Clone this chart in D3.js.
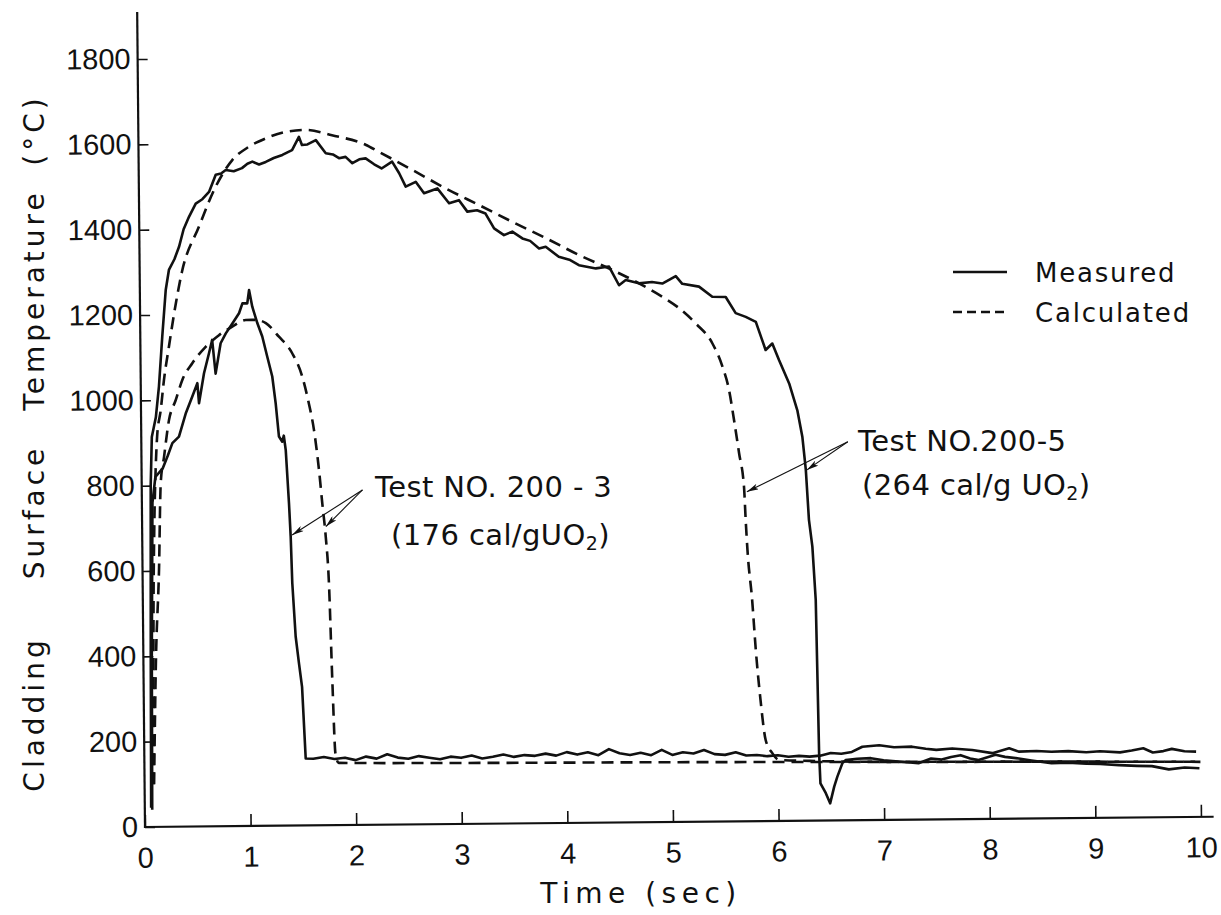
<!DOCTYPE html>
<html>
<head>
<meta charset="utf-8">
<script src="https://cdnjs.cloudflare.com/ajax/libs/d3/7.8.5/d3.min.js"></script>
<style>
  body { margin: 0; background: #fff; }
  text { font-family: "DejaVu Sans", sans-serif; fill: #111; }
</style>
</head>
<body>
<div id="chart"></div>
<script>
// values (time in sec, temperature in deg C)
var xTicks = [0, 1, 2, 3, 4, 5, 6, 7, 8, 9, 10];
var yTicks = [0, 200, 400, 600, 800, 1000, 1200, 1400, 1600, 1800];

// Test NO. 200-5, measured
var measured5 = [
  [0.06, 45], [0.07, 400], [0.085, 800], [0.10, 914], [0.14, 960], [0.172, 1032], [0.208, 1149],
  [0.245, 1258], [0.277, 1305], [0.33, 1330], [0.375, 1359], [0.42, 1400], [0.472, 1429],
  [0.537, 1460], [0.60, 1470], [0.664, 1487], [0.729, 1527], [0.78, 1530], [0.824, 1538],
  [0.90, 1535], [0.978, 1542], [1.03, 1552], [1.077, 1557], [1.14, 1550], [1.204, 1556],
  [1.28, 1565], [1.362, 1572], [1.41, 1578], [1.454, 1583], [1.52, 1614], [1.548, 1595],
  [1.60, 1596], [1.68, 1606], [1.773, 1575], [1.84, 1572], [1.898, 1563], [1.96, 1566],
  [2.024, 1551], [2.09, 1560], [2.15, 1562], [2.23, 1548], [2.30, 1538], [2.40, 1554],
  [2.465, 1527], [2.527, 1495], [2.622, 1506], [2.70, 1479], [2.826, 1490], [2.936, 1455],
  [3.03, 1462], [3.108, 1435], [3.20, 1438], [3.28, 1430], [3.36, 1395], [3.453, 1379],
  [3.532, 1387], [3.627, 1371], [3.70, 1365], [3.784, 1347], [3.847, 1351], [3.97, 1327],
  [4.07, 1320], [4.16, 1307], [4.32, 1299], [4.445, 1303], [4.538, 1259], [4.602, 1271],
  [4.727, 1263], [4.85, 1266], [4.948, 1262], [5.076, 1279], [5.137, 1261], [5.295, 1254],
  [5.42, 1230], [5.547, 1229], [5.64, 1191], [5.735, 1182], [5.83, 1170], [5.92, 1104],
  [5.984, 1119], [6.046, 1080], [6.14, 1025], [6.215, 962], [6.26, 900], [6.29, 822],
  [6.315, 705], [6.345, 642], [6.372, 517], [6.38, 360], [6.39, 158], [6.40, 87],
  [6.45, 64], [6.49, 40], [6.53, 79], [6.56, 102], [6.61, 134], [6.64, 141], [6.75, 144],
  [6.88, 145], [7.0, 140], [7.17, 136], [7.33, 132], [7.45, 143], [7.55, 140], [7.64, 146],
  [7.73, 150], [7.82, 142], [7.90, 138], [8.06, 150], [8.15, 145], [8.28, 141], [8.4, 136],
  [8.59, 129], [8.75, 130], [8.92, 127], [9.05, 126], [9.23, 123], [9.4, 121], [9.54, 120],
  [9.70, 112], [9.85, 116], [9.99, 114]
];

// Test NO. 200-5, calculated
var calculated5 = [
  [0.085, 100], [0.10, 500], [0.115, 700], [0.133, 836], [0.15, 914], [0.187, 977],
  [0.22, 1047], [0.27, 1125], [0.34, 1227], [0.40, 1300], [0.566, 1406], [0.727, 1499],
  [0.887, 1561], [1.046, 1592], [1.205, 1611], [1.396, 1626], [1.585, 1630], [1.833, 1617],
  [2.15, 1594], [2.277, 1577], [2.59, 1534], [2.905, 1490], [3.22, 1450], [3.533, 1410],
  [3.85, 1371], [4.16, 1331], [4.475, 1295], [4.727, 1263], [4.947, 1231], [5.104, 1204],
  [5.26, 1168], [5.416, 1121], [5.51, 1066], [5.57, 1011], [5.615, 940], [5.66, 862],
  [5.703, 784], [5.716, 706], [5.73, 636], [5.77, 518], [5.80, 401], [5.84, 284],
  [5.885, 190], [5.947, 159], [6.01, 143], [6.3, 140], [7.0, 136], [8.5, 133], [10.0, 129]
];

// Test NO. 200-3, measured
var measured3 = [
  [0.07, 40], [0.08, 400], [0.10, 760], [0.13, 820], [0.20, 840], [0.25, 870], [0.294, 899],
  [0.357, 914], [0.423, 968], [0.487, 1008], [0.536, 1039], [0.55, 992], [0.60, 1062],
  [0.649, 1109], [0.68, 1140], [0.71, 1061], [0.76, 1132], [0.81, 1155], [0.873, 1178],
  [0.937, 1202], [0.97, 1225], [1.016, 1225], [1.034, 1256], [1.063, 1217], [1.11, 1178],
  [1.155, 1147], [1.20, 1100], [1.246, 1053], [1.276, 990], [1.304, 912], [1.335, 900],
  [1.35, 914], [1.367, 880], [1.393, 755], [1.406, 677], [1.417, 568], [1.444, 443],
  [1.473, 380], [1.50, 325], [1.528, 157], [1.6, 156], [1.7, 160], [1.8, 155], [1.9, 158],
  [2.0, 152], [2.1, 160], [2.2, 155], [2.3, 165], [2.4, 157], [2.5, 154], [2.6, 160],
  [2.7, 156], [2.8, 152], [2.9, 158], [3.0, 155], [3.1, 160], [3.2, 153], [3.3, 157],
  [3.4, 162], [3.5, 156], [3.6, 160], [3.7, 158], [3.8, 163], [3.9, 158], [4.0, 166],
  [4.1, 160], [4.2, 165], [4.3, 158], [4.4, 172], [4.5, 162], [4.6, 158], [4.7, 163],
  [4.8, 157], [4.9, 169], [5.0, 157], [5.1, 163], [5.2, 160], [5.3, 168], [5.4, 158],
  [5.5, 156], [5.6, 162], [5.7, 154], [5.8, 155], [5.9, 152], [6.0, 154], [6.1, 150],
  [6.2, 152], [6.3, 150], [6.4, 152], [6.5, 158], [6.6, 156], [6.7, 160], [6.8, 172],
  [6.96, 175], [7.1, 170], [7.27, 171], [7.4, 166], [7.5, 163], [7.65, 166], [7.84, 162],
  [8.03, 154], [8.19, 165], [8.28, 157], [8.45, 158], [8.59, 156], [8.75, 157], [8.92, 154],
  [9.05, 156], [9.24, 153], [9.35, 157], [9.46, 162], [9.55, 152], [9.65, 155], [9.73, 160],
  [9.85, 154], [9.96, 153]
];

// Test NO. 200-3, calculated
var calculated3 = [
  [0.09, 100], [0.12, 400], [0.156, 602], [0.18, 805], [0.214, 867], [0.264, 953],
  [0.33, 1000], [0.394, 1047], [0.49, 1086], [0.618, 1124], [0.745, 1151], [0.872, 1171],
  [1.0, 1186], [1.095, 1186], [1.19, 1178], [1.313, 1146], [1.437, 1107], [1.53, 1052],
  [1.59, 989], [1.636, 927], [1.68, 833], [1.708, 755], [1.738, 676], [1.764, 567],
  [1.787, 340], [1.81, 168], [1.84, 146], [3.0, 143], [5.0, 140], [7.0, 136], [8.5, 133],
  [10.0, 129]
];

// annotation arrows: [from, to] in data units
var arrows3 = [[[2.09, 785], [1.42, 681]], [[2.09, 785], [1.74, 700]]];
var arrows5 = [[[6.69, 887], [5.73, 772]], [[6.69, 887], [6.30, 822]]];

var legendNames = ["Measured", "Calculated"];

var width = 1221, height = 915;
var svg = d3.select("#chart").append("svg")
  .attr("width", width).attr("height", height);

svg.append("defs").append("marker")
  .attr("id", "arrowhead")
  .attr("viewBox", "0 0 12 6").attr("refX", 12).attr("refY", 3)
  .attr("markerWidth", 12).attr("markerHeight", 6)
  .attr("markerUnits", "userSpaceOnUse").attr("orient", "auto")
  .append("path").attr("d", "M0,0 L12,3 L0,6 L3,3 Z").attr("fill", "#111");

var xScale = d3.scaleLinear().domain([0, 10]).range([145, 1201]);
var yScale = d3.scaleLinear().domain([0, 1800]).range([827, 59]);

// the scan is slightly rotated
var plot = svg.append("g").attr("transform", "rotate(-0.55,145,827)");

// axis lines
plot.append("line")
  .attr("x1", xScale(0)).attr("x2", xScale(0))
  .attr("y1", yScale(0) + 1).attr("y2", yScale(1910))
  .attr("stroke", "#111").attr("stroke-width", 2.2);
plot.append("line")
  .attr("x1", xScale(0)).attr("x2", xScale(10.12))
  .attr("y1", yScale(0)).attr("y2", yScale(0))
  .attr("stroke", "#111").attr("stroke-width", 2.2);

var yAxis = plot.append("g")
  .attr("transform", "translate(" + xScale(0) + ",0)")
  .call(d3.axisLeft(yScale).tickValues(yTicks).tickSize(-10).tickPadding(7).tickFormat(d3.format("d")));
var xAxis = plot.append("g")
  .attr("transform", "translate(0," + yScale(0) + ")")
  .call(d3.axisBottom(xScale).tickValues(xTicks).tickSize(-12).tickPadding(20).tickFormat(d3.format("d")));

[yAxis, xAxis].forEach(function (ax) {
  ax.select(".domain").remove();
  ax.selectAll(".tick line").attr("stroke", "#111").attr("stroke-width", 1.6);
  ax.selectAll(".tick text")
    .style("font-family", "'Liberation Sans', Arial, sans-serif")
    .style("font-size", "29px").attr("fill", "#111");
});

var line = d3.line()
  .x(function (d) { return xScale(d[0]); })
  .y(function (d) { return yScale(d[1]); });
var smooth = d3.line()
  .curve(d3.curveMonotoneX)
  .x(function (d) { return xScale(d[0]); })
  .y(function (d) { return yScale(d[1]); });

[calculated3, calculated5].forEach(function (s) {
  plot.append("path").datum(s).attr("d", smooth)
    .attr("fill", "none").attr("stroke", "#111").attr("stroke-width", 2.6)
    .attr("stroke-dasharray", "12,7");
});
[measured3, measured5].forEach(function (s) {
  plot.append("path").datum(s).attr("d", line)
    .attr("fill", "none").attr("stroke", "#111").attr("stroke-width", 2.6)
    .attr("stroke-linejoin", "round");
});

arrows3.concat(arrows5).forEach(function (a) {
  plot.append("line")
    .attr("x1", xScale(a[0][0])).attr("y1", yScale(a[0][1]))
    .attr("x2", xScale(a[1][0])).attr("y2", yScale(a[1][1]))
    .attr("stroke", "#111").attr("stroke-width", 1.1)
    .attr("marker-end", "url(#arrowhead)");
});

// annotations
function label(x, y, main, sub, tail) {
  var t = svg.append("text").attr("x", x).attr("y", y)
    .style("font-size", "29px").style("letter-spacing", "0.4px");
  t.append("tspan").text(main);
  if (sub) {
    t.append("tspan").text(sub).style("font-size", "19px").attr("dy", 5);
    t.append("tspan").text(tail).attr("dy", -5);
  }
}
label(375, 497, "Test NO. 200 - 3");
label(391, 545, "(176 cal/gUO", "2", ")");
label(858, 451, "Test NO.200-5");
label(862, 495, "(264 cal/g UO", "2", ")");

// legend
legendNames.forEach(function (name, i) {
  var y = 272 + i * 40;
  svg.append("line")
    .attr("x1", 953).attr("x2", 1007).attr("y1", y).attr("y2", y)
    .attr("stroke", "#111").attr("stroke-width", 2.4)
    .attr("stroke-dasharray", i === 0 ? null : "9,5");
  svg.append("text").attr("x", 1035).attr("y", y + 10)
    .style("font-size", "26px").style("letter-spacing", "1.8px").text(name);
});

// axis titles
svg.append("text").attr("x", 641).attr("y", 903)
  .attr("text-anchor", "middle")
  .style("font-size", "28px").style("letter-spacing", "5.5px")
  .text("Time (sec)");

var yTitle = [["Cladding", 714], ["Surface", 512], ["Temperature", 300], ["(°C)", 130]];
yTitle.forEach(function (w) {
  svg.append("text")
    .attr("transform", "translate(44," + w[1] + ") rotate(-90)")
    .attr("text-anchor", "middle")
    .style("font-size", "28px").style("letter-spacing", "4px")
    .text(w[0]);
});
</script>
</body>
</html>
